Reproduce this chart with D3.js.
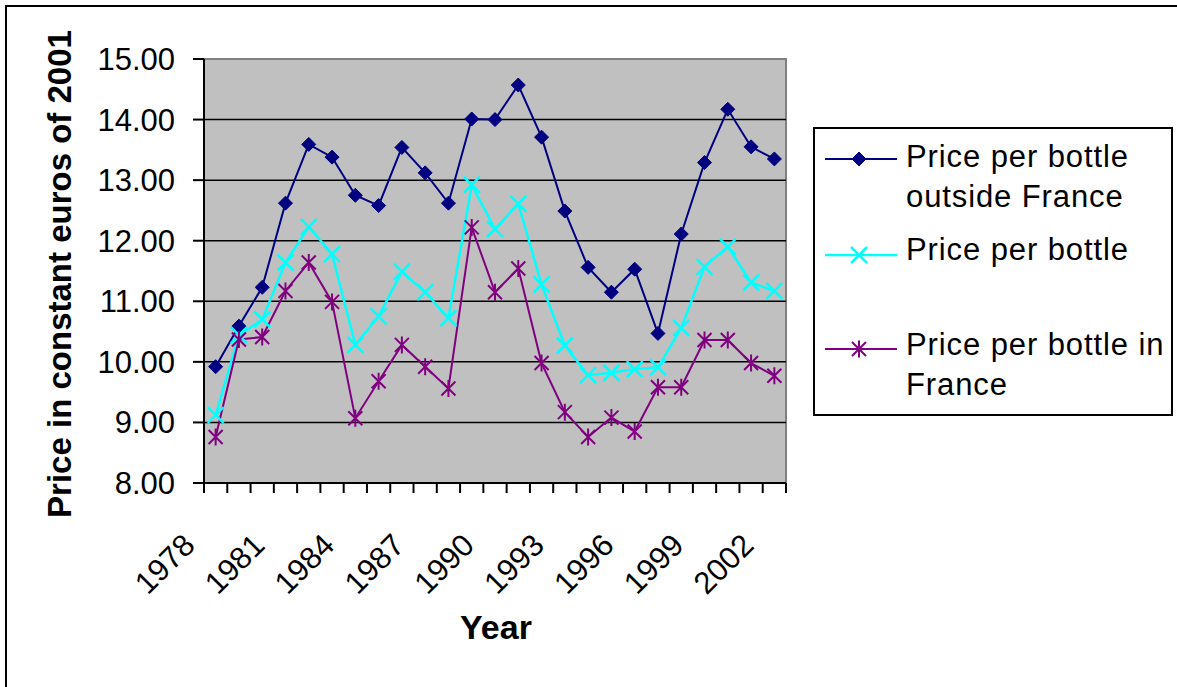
<html>
<head>
<title>Price per bottle</title>
<script src="https://d3js.org/d3.v7.min.js"></script>
<style>
  body { margin: 0; background: #fff; }
  text { font-family: "Liberation Sans", Arial, sans-serif; fill: #000; }
</style>
</head>
<body>
<svg id="chart" width="1177" height="687"></svg>
<script>
// data
const years = [1978, 1979, 1980, 1981, 1982, 1983, 1984, 1985, 1986, 1987, 1988, 1989, 1990,
               1991, 1992, 1993, 1994, 1995, 1996, 1997, 1998, 1999, 2000, 2001, 2002];
const outsideFrance = [9.92, 10.59, 11.23, 12.62, 13.59, 13.38, 12.75, 12.58, 13.54, 13.12, 12.62, 14.01, 14.00,
                       14.57, 13.71, 12.49, 11.56, 11.15, 11.53, 10.47, 12.11, 13.29, 14.17, 13.55, 13.35];
const allBottles = [9.12, 10.44, 10.70, 11.64, 12.23, 11.78, 10.28, 10.75, 11.49, 11.15, 10.72, 12.92, 12.19,
                    12.61, 11.28, 10.27, 9.78, 9.82, 9.88, 9.91, 10.56, 11.57, 11.90, 11.31, 11.17];
const inFrance = [8.76, 10.37, 10.41, 11.17, 11.64, 10.99, 9.07, 9.68, 10.28, 9.92, 9.56, 12.22, 11.15,
                  11.54, 9.98, 9.17, 8.76, 9.08, 8.85, 9.58, 9.58, 10.36, 10.36, 9.98, 9.77];
const xTickLabels = [1978, 1981, 1984, 1987, 1990, 1993, 1996, 1999, 2002];
const yTicks = [8, 9, 10, 11, 12, 13, 14, 15];
const seriesNames = ["Price per bottle\noutside France", "Price per bottle", "Price per bottle in\nFrance"];

const svg = d3.select("#chart");

// outer frame (runs off the right and bottom of the picture)
svg.append("rect")
    .attr("x", 6).attr("y", 6)
    .attr("width", 1200).attr("height", 700)
    .attr("fill", "none").attr("stroke", "#000").attr("stroke-width", 2);

const plot = {left: 204, right: 786, top: 59, bottom: 483};

const x = d3.scaleBand().domain(years).range([plot.left, plot.right]).padding(0);
const y = d3.scaleLinear().domain([8, 15]).range([plot.bottom, plot.top]);
const cx = d => x(d) + x.bandwidth() / 2;

// plot area
svg.append("rect")
    .attr("x", plot.left).attr("y", plot.top)
    .attr("width", plot.right - plot.left).attr("height", plot.bottom - plot.top)
    .attr("fill", "#c0c0c0").attr("stroke", "#808080").attr("stroke-width", 2);

// gridlines
svg.append("g").selectAll("line")
    .data(yTicks.filter(d => d > 8 && d < 15))
    .join("line")
    .attr("x1", plot.left).attr("x2", plot.right)
    .attr("y1", d => y(d)).attr("y2", d => y(d))
    .attr("stroke", "#000").attr("stroke-width", 1.5);

// y axis
const yAxis = svg.append("g");
yAxis.append("line")
    .attr("x1", plot.left).attr("x2", plot.left)
    .attr("y1", plot.top).attr("y2", plot.bottom)
    .attr("stroke", "#000").attr("stroke-width", 2);
yAxis.selectAll("line.tick")
    .data(yTicks)
    .join("line")
    .attr("class", "tick")
    .attr("x1", plot.left - 11).attr("x2", plot.left)
    .attr("y1", d => y(d)).attr("y2", d => y(d))
    .attr("stroke", "#000").attr("stroke-width", 2);
yAxis.selectAll("text")
    .data(yTicks)
    .join("text")
    .attr("x", 175)
    .attr("y", d => y(d) + 11)
    .attr("text-anchor", "end")
    .style("font-size", "31px")
    .text(d => d3.format(".2f")(d));

// x axis
const xAxis = svg.append("g");
xAxis.append("line")
    .attr("x1", plot.left).attr("x2", plot.right)
    .attr("y1", plot.bottom).attr("y2", plot.bottom)
    .attr("stroke", "#000").attr("stroke-width", 2);
xAxis.selectAll("line.tick")
    .data(years.map(d => x(d)).concat([plot.right]))
    .join("line")
    .attr("class", "tick")
    .attr("x1", d => d).attr("x2", d => d)
    .attr("y1", plot.bottom).attr("y2", plot.bottom + 10)
    .attr("stroke", "#000").attr("stroke-width", 2);
xAxis.selectAll("text")
    .data(xTickLabels)
    .join("text")
    .attr("text-anchor", "end")
    .attr("transform", d => "translate(" + (cx(d) - 19) + "," + 547 + ") rotate(-45)")
    .style("font-size", "31px")
    .text(d => d);

// axis titles
svg.append("text")
    .attr("transform", "translate(71,274) rotate(-90)")
    .attr("text-anchor", "middle")
    .style("font-size", "33px").style("font-weight", "bold")
    .text("Price in constant euros of 2001");
svg.append("text")
    .attr("x", 496).attr("y", 639)
    .attr("text-anchor", "middle")
    .style("font-size", "34px").style("font-weight", "bold")
    .text("Year");

// markers
function drawMarker(g, kind, color) {
    if (kind === "diamond") {
        g.append("path").attr("d", "M0,-7L7,0L0,7L-7,0Z").attr("fill", color).attr("stroke", color);
    } else if (kind === "x") {
        g.append("path").attr("d", "M-8,-8L8,8M-8,8L8,-8").attr("stroke", color).attr("stroke-width", 2.5).attr("fill", "none");
    } else {
        g.append("path").attr("d", "M-7,-7L7,7M-7,7L7,-7M0,-8.5L0,8.5").attr("stroke", color).attr("stroke-width", 2).attr("fill", "none");
    }
}

const series = [
    {values: outsideFrance, color: "#000080", marker: "diamond", width: 2},
    {values: allBottles, color: "#00ffff", marker: "x", width: 2.5},
    {values: inFrance, color: "#800080", marker: "star", width: 2}
];

const line = d3.line().x((d, i) => cx(years[i])).y(d => y(d));

series.forEach(s => {
    svg.append("path")
        .datum(s.values)
        .attr("d", line)
        .attr("fill", "none")
        .attr("stroke", s.color)
        .attr("stroke-width", s.width);
});
series.forEach(s => {
    svg.append("g").selectAll("g")
        .data(s.values)
        .join("g")
        .attr("transform", (d, i) => "translate(" + cx(years[i]) + "," + y(d) + ")")
        .each(function () { drawMarker(d3.select(this), s.marker, s.color); });
});

// legend
const legend = svg.append("g");
legend.append("rect")
    .attr("x", 814).attr("y", 128)
    .attr("width", 358).attr("height", 287)
    .attr("fill", "#fff").attr("stroke", "#000").attr("stroke-width", 2);

const legendLineY = [159, 255, 349];
const legendTextY = [167, 260, 355];

series.forEach((s, i) => {
    const item = legend.append("g");
    item.append("line")
        .attr("x1", 825).attr("x2", 897)
        .attr("y1", legendLineY[i]).attr("y2", legendLineY[i])
        .attr("stroke", s.color).attr("stroke-width", s.width);
    drawMarker(item.append("g").attr("transform", "translate(859," + legendLineY[i] + ")"), s.marker, s.color);
    const t = item.append("text")
        .attr("x", 906).attr("y", legendTextY[i])
        .style("font-size", "31px").style("letter-spacing", "0.9px");
    seriesNames[i].split("\n").forEach((part, j) => {
        t.append("tspan").attr("x", 906).attr("dy", j === 0 ? 0 : 39.5).text(part);
    });
});
</script>
</body>
</html>
